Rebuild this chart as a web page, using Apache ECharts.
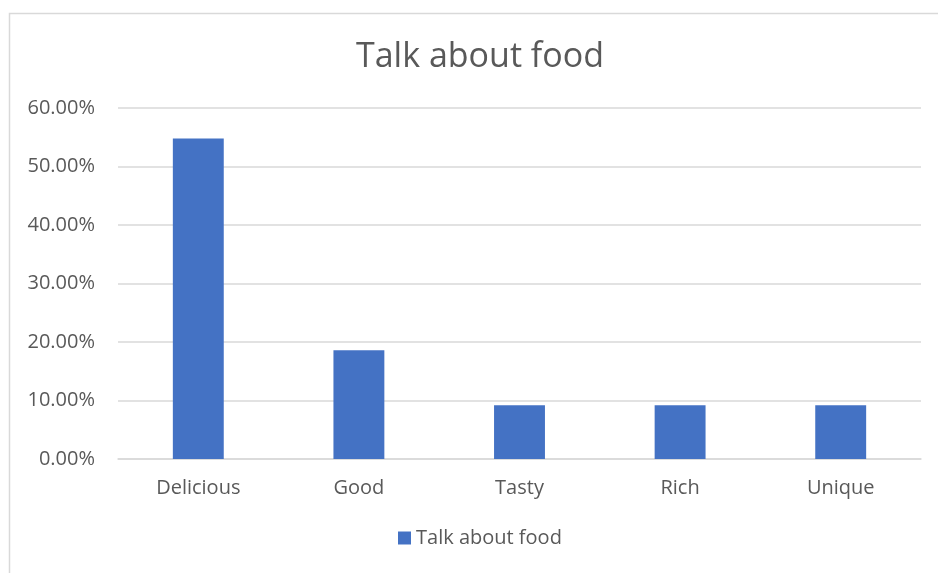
<!DOCTYPE html>
<html>
<head>
<meta charset="utf-8">
<script src="https://cdn.jsdelivr.net/npm/echarts@6/dist/echarts.min.js"></script>
<style>
  html, body { margin: 0; padding: 0; background: #ffffff; }
  #chart { width: 938px; height: 573px; }
</style>
</head>
<body>
<div id="chart"></div>
<script>
// Share of mentions for each food word
const categories = ['Delicious', 'Good', 'Tasty', 'Rich', 'Unique'];
const shares = [54.8, 18.6, 9.2, 9.2, 9.2];
const seriesName = 'Talk about food';
const yTicks = { min: 0, max: 60, step: 10 };

const font = '"Open Sans", "Noto Sans", sans-serif';
const textColor = '#595959';

const chart = echarts.init(document.getElementById('chart'), null, { renderer: 'canvas' });
chart.setOption({
  animation: false,
  backgroundColor: '#ffffff',
  graphic: [{
    type: 'rect',
    shape: { x: 9.5, y: 13.5, width: 960, height: 600 },
    style: { fill: 'none', stroke: '#d9d9d9', lineWidth: 1.5 },
    silent: true
  }],
  title: {
    text: seriesName,
    left: 351,
    top: 35,
    textStyle: { fontFamily: font, fontSize: 34, fontWeight: 'normal', color: textColor }
  },
  legend: {
    data: [seriesName],
    top: 523,
    left: 393,
    icon: 'rect',
    itemWidth: 13,
    itemHeight: 13,
    itemGap: 6,
    textStyle: { fontFamily: font, fontSize: 20, color: textColor }
  },
  grid: { left: 118, right: 17, top: 108, bottom: 114, containLabel: false },
  xAxis: {
    type: 'category',
    data: categories,
    axisLine: { show: true, lineStyle: { color: '#d9d9d9', width: 1.5 } },
    axisTick: { show: false },
    axisLabel: { fontFamily: font, fontSize: 20, color: textColor, margin: 19 }
  },
  yAxis: {
    type: 'value',
    min: yTicks.min,
    max: yTicks.max,
    interval: yTicks.step,
    axisLine: { show: false },
    axisTick: { show: false },
    splitLine: { lineStyle: { color: '#d9d9d9', width: 1.5 } },
    axisLabel: {
      fontFamily: font, fontSize: 20, color: textColor, margin: 23,
      formatter: v => v.toFixed(2) + '%'
    }
  },
  series: [{
    name: seriesName,
    type: 'bar',
    data: shares,
    barWidth: '31.7%',
    itemStyle: { color: '#4472C4' }
  }]
});
</script>
</body>
</html>
